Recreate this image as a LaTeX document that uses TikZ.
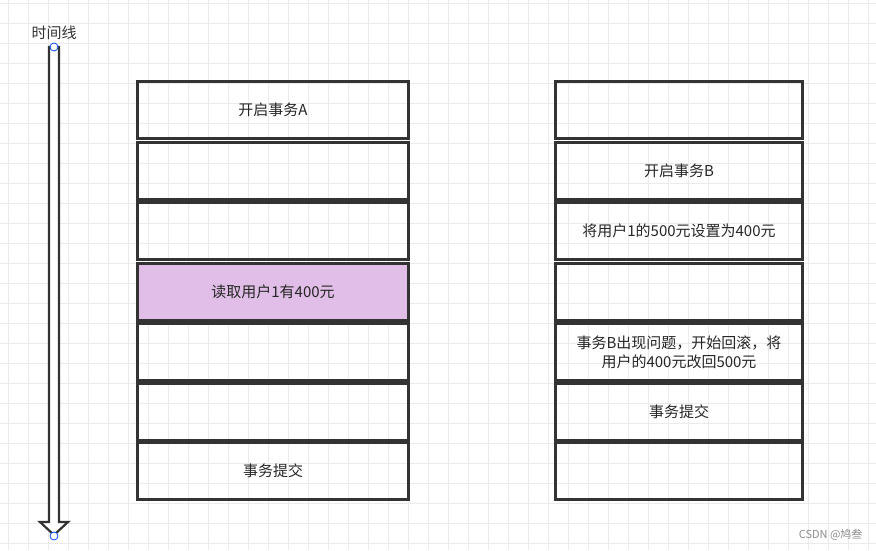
\documentclass[tikz,border=0pt]{standalone}
\usepackage{fontspec}
\setmainfont{Noto Sans CJK SC}
\definecolor{lilac}{RGB}{225,190,231}
\begin{document}
\begin{tikzpicture}[x=1pt,y=-1pt,
  cell/.style={draw=black!80,line width=2.2pt,minimum height=57pt,inner sep=0pt,align=center,font=\fontsize{15}{19}\selectfont,text=black!85},
  lcell/.style={cell,minimum width=271pt},
  rcell/.style={cell,minimum width=247pt,text width=235pt},
  pt/.style={circle,draw=blue!70!cyan,fill=white,line width=0.8pt,minimum size=8pt,inner sep=0pt}]
\useasboundingbox (0,0) rectangle (876,550);
\fill[white] (0,0) rectangle (876,550);
\foreach \x in {8,28,...,876} \draw[black!8,line width=0.8pt] (\x,0) -- (\x,550);
\foreach \y in {3,23,...,550} \draw[black!8,line width=0.8pt] (0,\y) -- (876,\y);
% timeline arrow
\draw[black!80,line width=2.2pt,fill=white] (49,47) -- (59,47) -- (59,522) -- (68,522) -- (54,535) -- (40,522) -- (49,522) -- cycle;
\node[pt] (ta) at (54,47) {};
\node[pt] (tb) at (54,536) {};
\node[font=\fontsize{15}{17}\selectfont,text=black!80] (tl) at (54,33) {时间线};
% left column
\node[lcell] (a1) at (273,110) {开启事务A};
\node[lcell] (a2) at (273,171) {};
\node[lcell] (a3) at (273,231) {};
\node[lcell,fill=lilac] (a4) at (273,292) {读取用户1有400元};
\node[lcell] (a5) at (273,352) {};
\node[lcell] (a6) at (273,412) {};
\node[lcell] (a7) at (273,471) {事务提交};
% right column
\node[rcell] (b1) at (679,110) {};
\node[rcell] (b2) at (679,171) {开启事务B};
\node[rcell] (b3) at (679,231) {将用户1的500元设置为400元};
\node[rcell] (b4) at (679,292) {};
\node[rcell] (b5) at (679,352) {事务B出现问题，开始回滚，将\\用户的400元改回500元};
\node[rcell] (b6) at (679,412) {事务提交};
\node[rcell] (b7) at (679,471) {};
\node[font=\fontsize{11}{13}\selectfont,text=black!45,anchor=east] (wm) at (866,535) {CSDN @鸠叁};
\end{tikzpicture}
\end{document}
